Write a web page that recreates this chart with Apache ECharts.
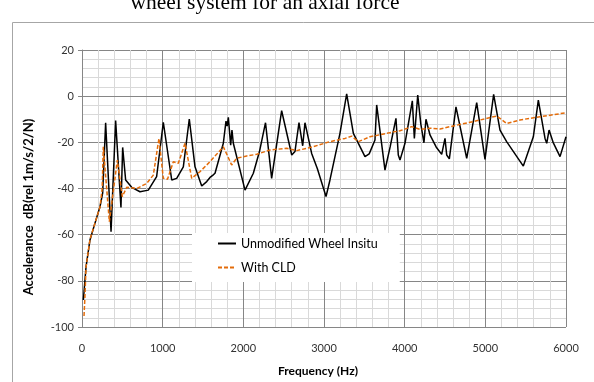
<!DOCTYPE html>
<html>
<head>
<meta charset="utf-8">
<title>Accelerance - wheel system</title>
<script src="https://cdn.jsdelivr.net/npm/echarts@6/dist/echarts.min.js"></script>
<style>
    html, body { margin: 0; padding: 0; background: #fff; }
    #accelerance_chart { width: 594px; height: 382px; }
</style>
</head>
<body>
<div id="accelerance_chart"></div>
<script>

// Chart data
// ------------------------------

var seriesNames = ['Unmodified Wheel Insitu', 'With CLD'];

// Unmodified wheel, measured in situ
var unmodFreq = [17, 50, 99, 161, 223, 256, 293, 360, 417, 483, 504, 541, 616, 719, 822, 925, 1008, 1112, 1174, 1256, 1330, 1401, 1484, 1546, 1587, 1620, 1649, 1752, 1785, 1800, 1814, 1843, 1859, 1876, 2021, 2124, 2200, 2275, 2351, 2475, 2600, 2640, 2690, 2736, 2764, 2847, 2917, 3025, 3074, 3198, 3281, 3364, 3508, 3560, 3632, 3653, 3756, 3820, 3892, 3921, 3942, 4004, 4095, 4120, 4162, 4200, 4239, 4264, 4314, 4390, 4459, 4500, 4521, 4554, 4636, 4769, 4893, 4996, 5103, 5182, 5264, 5471, 5595, 5657, 5740, 5761, 5790, 5840, 5926, 6000];
var unmodDb = [-88.3, -73.9, -62.3, -55, -47.9, -42, -11.5, -58.7, -10.6, -48.2, -22.2, -36.3, -39.5, -41.4, -40.7, -34.9, -11.3, -36.3, -35.6, -30.6, -9.9, -30.6, -38.9, -37, -35.2, -34.3, -33.4, -20.4, -10.8, -13, -9.2, -21.2, -14.7, -20.4, -40.7, -33.4, -24, -11.5, -35.6, -6.3, -25.5, -24, -11.5, -21.5, -11.5, -24.8, -31.3, -43.5, -36.3, -16.1, 1, -16.1, -26.2, -25, -19, -3.8, -32, -22, -9.6, -25.5, -27.7, -20.4, -2, -18.3, 0.5, -12, -20.2, -10, -16.8, -22, -25.2, -18.3, -25.5, -27.2, -4.6, -26.9, -2.8, -27.4, 0.8, -14.7, -19.7, -30.3, -17.6, -1.7, -18.3, -20.4, -14.7, -20, -26.2, -17.6];

// Wheel with constrained layer damping
var cldFreq = [25, 35, 50, 99, 161, 223, 250, 264, 339, 347, 438, 500, 554, 678, 802, 884, 954, 1008, 1060, 1132, 1194, 1277, 1360, 1463, 1587, 1752, 1855, 1918, 2042, 2166, 2331, 2538, 2662, 2867, 3074, 3260, 3343, 3425, 3570, 3818, 3942, 4087, 4190, 4314, 4438, 4603, 4851, 5141, 5264, 5430, 5678, 6000];
var cldDb = [-95.2, -88, -74, -62, -55, -48, -40, -21.9, -54.4, -54.8, -27.7, -43.5, -39.5, -40, -37.8, -34.2, -18.3, -35.6, -36, -28.4, -29.1, -20.4, -35.6, -32.7, -28.4, -21.9, -29.8, -26.9, -25.9, -25.2, -23.3, -22.6, -23.6, -21.9, -19.7, -18.3, -17.3, -19.7, -17.6, -15.8, -15, -13.2, -14.4, -13.9, -14.2, -12.9, -11, -8.6, -11.8, -10.3, -8.9, -7.2];


// Setup module
// ------------------------------

var EchartsAccelerance = function() {

    var labelFont = 'Lato, "Noto Sans", sans-serif';

    var toPairs = function(xs, ys) {
        return xs.map(function(x, i) { return [x, ys[i]]; });
    };

    var _accelerance = function() {
        if (typeof echarts == 'undefined') {
            console.warn('Warning - echarts.min.js is not loaded.');
            return;
        }

        var chart_element = document.getElementById('accelerance_chart');
        if (!chart_element) return;

        var chart = echarts.init(chart_element, null, { renderer: 'canvas' });

        chart.setOption({
            animation: false,
            backgroundColor: '#fff',
            textStyle: {
                fontFamily: labelFont
            },

            // Outer frame, clipped caption and vertical axis title
            graphic: [
                {
                    type: 'rect',
                    shape: { x: 12.5, y: 22.5, width: 600, height: 400 },
                    style: { fill: null, stroke: '#a6a6a6', lineWidth: 1 },
                    silent: true
                },
                {
                    type: 'text',
                    x: 265, y: 14,
                    style: {
                        text: 'wheel system for an axial force',
                        font: '21.5px "Liberation Serif", "DejaVu Serif", serif',
                        fill: '#000',
                        textAlign: 'center',
                        textVerticalAlign: 'bottom'
                    }
                },
                {
                    type: 'text',
                    x: 29, y: 207,
                    rotation: Math.PI / 2,
                    style: {
                        text: 'Accelerance  dB(rel 1m/s/2/N)',
                        font: 'bold 13px ' + labelFont,
                        fill: '#000',
                        textAlign: 'center',
                        textVerticalAlign: 'middle'
                    }
                }
            ],

            grid: {
                left: 82,
                right: 28,
                top: 50,
                bottom: 55
            },

            legend: {
                data: seriesNames,
                orient: 'vertical',
                left: 192,
                top: 233,
                backgroundColor: '#fff',
                padding: [4, 22, 8, 25],
                itemGap: 11,
                itemWidth: 18,
                itemHeight: 12,
                itemStyle: { opacity: 0 },
                textStyle: {
                    fontSize: 12.5,
                    color: '#000',
                    fontFamily: labelFont
                }
            },

            xAxis: {
                type: 'value',
                min: 0,
                max: 6000,
                interval: 1000,
                name: 'Frequency (Hz)',
                nameLocation: 'middle',
                nameGap: 38,
                nameTextStyle: {
                    fontWeight: 'bold',
                    fontSize: 12,
                    color: '#000',
                    padding: [0, 12, 0, 0]
                },
                axisLine: { show: true, lineStyle: { color: '#868686' } },
                axisTick: { show: false },
                axisLabel: {
                    margin: 16,
                    fontSize: 11,
                    color: '#333',
                    formatter: function(value) { return String(value); }
                },
                splitLine: { show: true, lineStyle: { color: '#868686' } },
                minorTick: { show: false, splitNumber: 5 },
                minorSplitLine: { show: true, lineStyle: { color: '#d9d9d9' } }
            },

            yAxis: {
                type: 'value',
                min: -100,
                max: 20,
                interval: 20,
                axisLine: { show: true, lineStyle: { color: '#868686' } },
                axisTick: { show: true, length: 4, lineStyle: { color: '#868686' } },
                axisLabel: { margin: 8, fontSize: 11, color: '#333' },
                splitLine: { show: true, lineStyle: { color: '#868686' } },
                minorTick: { show: false, splitNumber: 5 },
                minorSplitLine: { show: true, lineStyle: { color: '#d9d9d9' } }
            },

            series: [
                {
                    name: seriesNames[0],
                    type: 'line',
                    symbol: 'none',
                    lineStyle: { color: '#000', width: 1.5 },
                    itemStyle: { color: '#000' },
                    data: toPairs(unmodFreq, unmodDb)
                },
                {
                    name: seriesNames[1],
                    type: 'line',
                    symbol: 'none',
                    lineStyle: { color: '#e46c0a', width: 1.5, type: [4, 2] },
                    itemStyle: { color: '#e46c0a' },
                    data: toPairs(cldFreq, cldDb)
                }
            ]
        });
    };

    return {
        init: function() {
            _accelerance();
        }
    };
}();

document.addEventListener('DOMContentLoaded', function() {
    EchartsAccelerance.init();
});
</script>
</body>
</html>
